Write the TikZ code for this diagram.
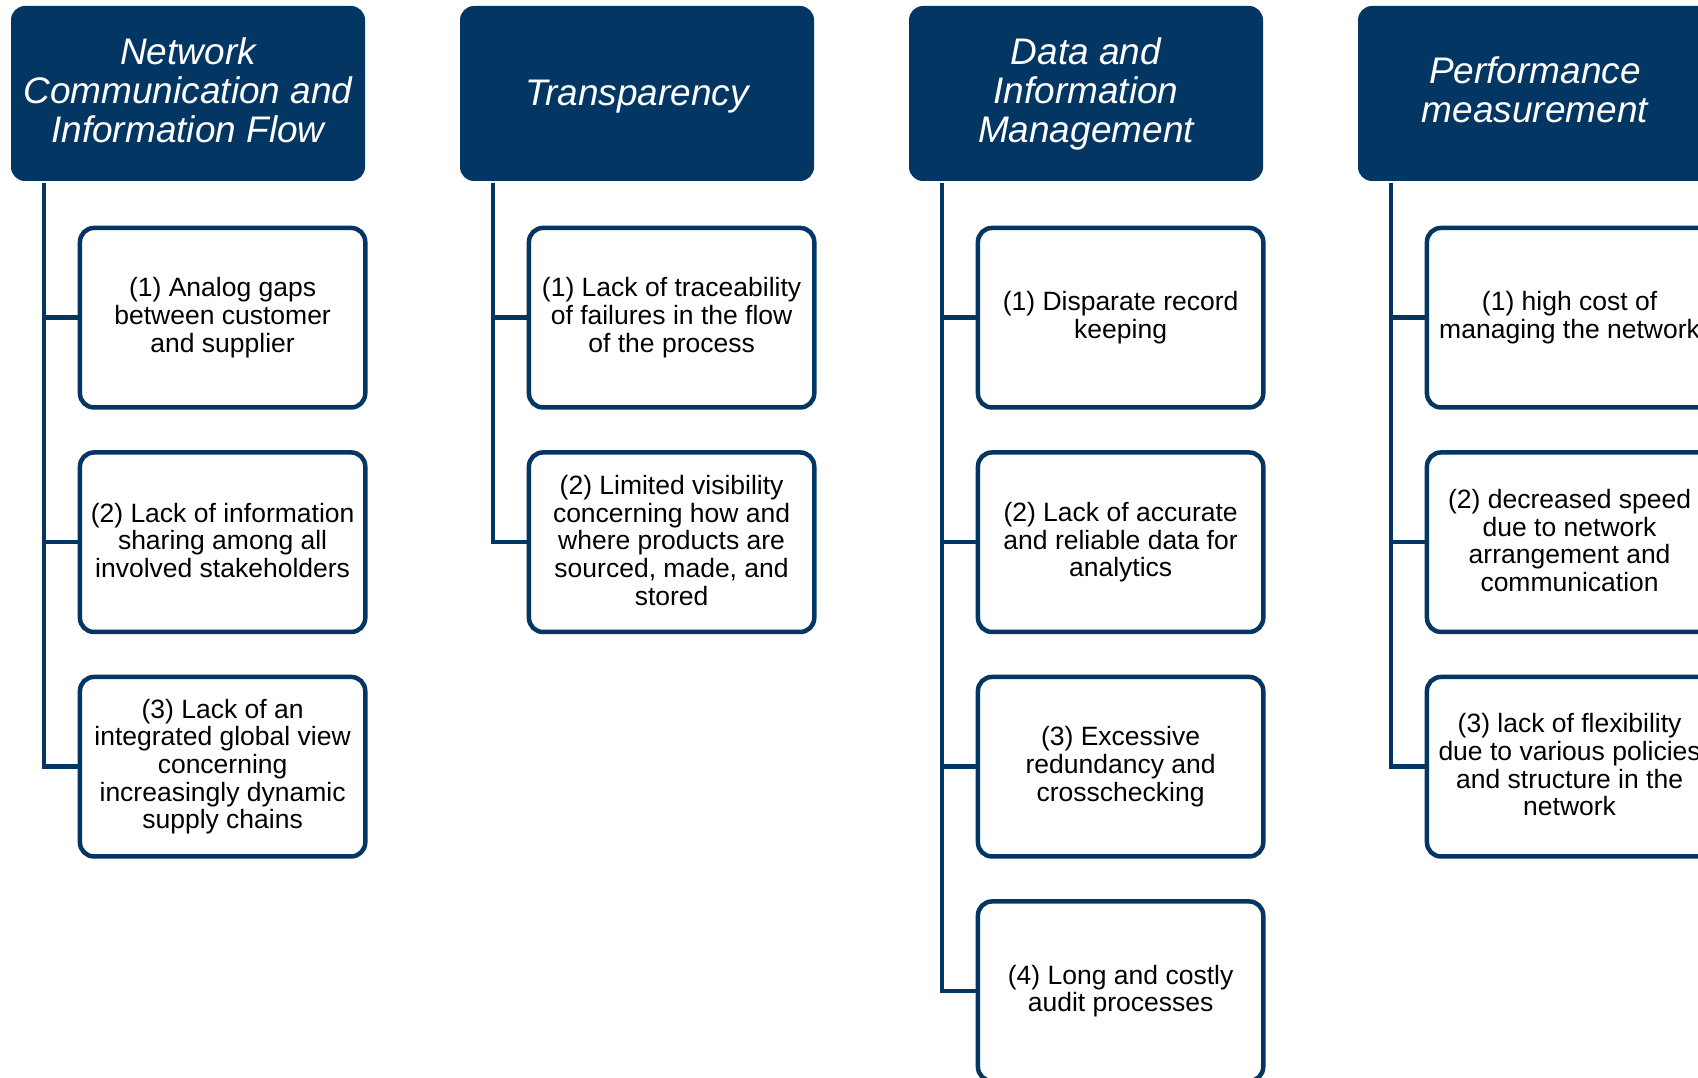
\documentclass[tikz,border=0pt]{standalone}
\usepackage{fontspec}
\setmainfont{Liberation Sans}
\definecolor{navy}{RGB}{3,54,98}
\newcommand\headstrut{\rule[-7pt]{0pt}{39pt}}
\newcommand\itemstrut{\rule[-4pt]{0pt}{27pt}}
\begin{document}
\begin{tikzpicture}[x=1pt,y=-1pt,
  head/.style={fill=navy, draw=none, rounded corners=14pt, minimum width=354pt, minimum height=175pt,
    text=white, font=\fontsize{37}{39}\selectfont\itshape, align=center, inner sep=0pt, outer sep=0pt,
    execute at begin node={\headstrut}, execute at end node={\headstrut}},
  item/.style={draw=navy, line width=4.5pt, fill=white, rounded corners=14pt, minimum width=285.3pt,
    minimum height=179.5pt, font=\fontsize{26.5}{27.6}\selectfont, align=center, inner sep=0pt,
    execute at begin node={\itemstrut}, execute at end node={\itemstrut}},
  link/.style={draw=navy, line width=4.5pt}]
\useasboundingbox (0,0) rectangle (1698,1078);
\clip (0,0) rectangle (1698,1078);

% headers
\node[head] (h1) at (188,93.5) {Network\\Communication and\\Information Flow};
\node[head] (h2) at (637,93.5) {Transparency};
\node[head] (h3) at (1086,93.5) {Data and\\Information\\Management};
\node[head] (h4) at (1535,93.5) {Performance\\measurement};

% column 1
\node[item] (c11) at (222.6,317.7) {(1) Analog gaps\\between customer\\and supplier};
\node[item] (c12) at (222.6,542.2) {(2) Lack of information\\sharing among all\\involved stakeholders};
\node[item] (c13) at (222.6,766.7) {(3) Lack of an\\integrated global view\\concerning\\increasingly dynamic\\supply chains};

% column 2
\node[item] (c21) at (671.6,317.7) {(1) Lack of traceability\\of failures in the flow\\of the process};
\node[item] (c22) at (671.6,542.2) {(2) Limited visibility\\concerning how and\\where products are\\sourced, made, and\\stored};

% column 3
\node[item] (c31) at (1120.6,317.7) {(1) Disparate record\\keeping};
\node[item] (c32) at (1120.6,542.2) {(2) Lack of accurate\\and reliable data for\\analytics};
\node[item] (c33) at (1120.6,766.7) {(3) Excessive\\redundancy and\\crosschecking};
\node[item] (c34) at (1120.6,991.2) {(4) Long and costly\\audit processes};

% column 4
\node[item] (c41) at (1569.6,317.7) {(1) high cost of\\managing the network};
\node[item] (c42) at (1569.6,542.2) {(2) decreased speed\\due to network\\arrangement and\\communication};
\node[item] (c43) at (1569.6,766.7) {(3) lack of flexibility\\due to various policies\\and structure in the\\network};

% trunks
\coordinate (t1) at ([xshift=33pt,yshift=-2pt]h1.south west);
\coordinate (t2) at ([xshift=33pt,yshift=-2pt]h2.south west);
\coordinate (t3) at ([xshift=33pt,yshift=-2pt]h3.south west);
\coordinate (t4) at ([xshift=33pt,yshift=-2pt]h4.south west);

\draw[link] (t1) |- (c13.west);
\draw[link] (t1) |- (c11.west);
\draw[link] (t1) |- (c12.west);

\draw[link] (t2) |- (c22.west);
\draw[link] (t2) |- (c21.west);

\draw[link] (t3) |- (c34.west);
\draw[link] (t3) |- (c31.west);
\draw[link] (t3) |- (c32.west);
\draw[link] (t3) |- (c33.west);

\draw[link] (t4) |- (c43.west);
\draw[link] (t4) |- (c41.west);
\draw[link] (t4) |- (c42.west);
\end{tikzpicture}
\end{document}
